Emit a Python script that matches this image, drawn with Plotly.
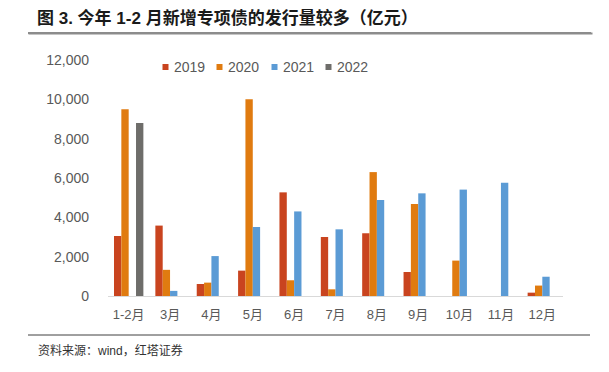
import plotly.graph_objects as go

categories = ["1-2月", "3月", "4月", "5月", "6月", "7月", "8月", "9月", "10月", "11月", "12月"]
s2019 = [3050, 3580, 610, 1290, 5270, 3000, 3190, 1220, None, None, 170]
s2020 = [9500, 1330, 680, 10000, 800, 340, 6300, 4680, 1800, None, 530]
s2021 = [None, 260, 2030, 3510, 4300, 3390, 4880, 5220, 5410, 5760, 980]
s2022 = [8800, None, None, None, None, None, None, None, None, None, None]
series_names = ["2019", "2020", "2021", "2022"]
colors = ["#C9441F", "#E07B10", "#5B9BD5", "#6E6D6A"]
y_ticks = [0, 2000, 4000, 6000, 8000, 10000, 12000]
y_tick_labels = ["0", "2,000", "4,000", "6,000", "8,000", "10,000", "12,000"]

FONT = "Liberation Sans, Arial, Noto Sans CJK SC, sans-serif"
FW, FH = 609, 372
L, R, T, B = 108, 563, 60, 296


def px(x):
    return x / FW


def py(y):
    return (FH - y) / FH


fig = go.Figure()
for name, vals, col in zip(series_names, [s2019, s2020, s2021, s2022], colors):
    fig.add_trace(go.Bar(name=name, x=categories, y=vals, marker_color=col,
                         marker_line_width=0, showlegend=False))

fig.update_layout(
    width=FW, height=FH,
    margin=dict(l=0, r=0, t=0, b=0, autoexpand=False),
    paper_bgcolor="white", plot_bgcolor="white",
    barmode="group", bargap=0.29, bargroupgap=0,
    font=dict(family=FONT, color="#595959", size=13),
    showlegend=False,
    xaxis=dict(domain=[px(L), px(R)], showgrid=False, showline=True,
               linecolor="#D9D9D9", linewidth=1, automargin=False,
               ticks="", tickfont=dict(size=13, color="#595959"), ticklabelstandoff=6),
    yaxis=dict(domain=[py(B), py(T)], range=[0, 12000], tickvals=y_ticks,
               ticktext=y_tick_labels, automargin=False,
               showgrid=False, zeroline=False, showline=False, ticks="",
               tickfont=dict(size=14, color="#595959"), ticklabelstandoff=18),
)

# rules under the title and above the source
fig.add_shape(type="line", xref="paper", yref="paper", layer="above",
              x0=px(28), x1=px(591), y0=py(33), y1=py(33),
              line=dict(color="#8C8C8C", width=2))
fig.add_shape(type="line", xref="paper", yref="paper", layer="above",
              x0=px(28), x1=px(590), y0=py(335), y1=py(335),
              line=dict(color="#404040", width=1))
# title rule also drawn as a thin filled annotation box
fig.add_annotation(text=" ", xref="paper", yref="paper", x=px(28), y=py(33),
                   xanchor="left", yanchor="middle", showarrow=False,
                   width=563, height=1, borderpad=0, bgcolor="#8C8C8C",
                   font=dict(size=1))

# legend built from shapes + text
legend_x = [162.5, 216.5, 271.5, 325.5]
for name, col, lx in zip(series_names, colors, legend_x):
    fig.add_shape(type="rect", xref="paper", yref="paper",
                  x0=px(lx), x1=px(lx + 6), y0=py(70), y1=py(64),
                  fillcolor=col, line=dict(width=0))
    fig.add_annotation(text=name, xref="paper", yref="paper",
                       x=px(lx + 9.5), y=py(67), xanchor="left", yanchor="middle",
                       showarrow=False, font=dict(size=14, color="#595959"))

# title and source
fig.add_annotation(text="<b>图 3. 今年 1-2 月新增专项债的发行量较多（亿元）</b>",
                   xref="paper", yref="paper", x=px(35), y=py(18),
                   xanchor="left", yanchor="middle", showarrow=False,
                   font=dict(size=17, color="#1a1a1a", family="Liberation Sans, Noto Sans CJK SC"))
fig.add_annotation(text="资料来源：wind，红塔证券",
                   xref="paper", yref="paper", x=px(36), y=py(350),
                   xanchor="left", yanchor="middle", showarrow=False,
                   font=dict(size=12, color="#333333", family="Liberation Sans, Noto Sans CJK SC"))

fig.write_html("out.html", config={"displayModeBar": False},
               post_script="document.body.style.margin='0';document.body.style.padding='0';")
